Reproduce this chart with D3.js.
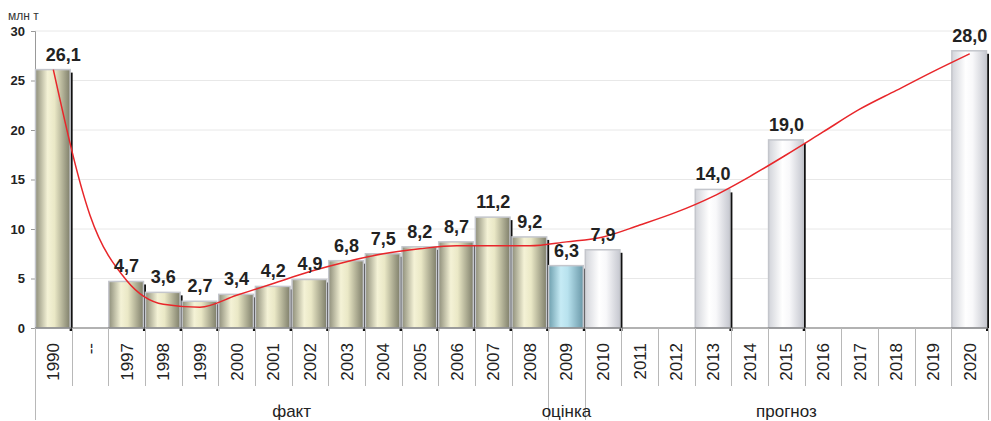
<!DOCTYPE html>
<html>
<head>
<meta charset="utf-8">
<script src="https://cdn.jsdelivr.net/npm/d3@7"></script>
<style>
  body { margin: 0; background: #fff; }
  text { font-family: Arial, "Liberation Sans", sans-serif; }
</style>
</head>
<body>
<div class="svg-container"></div>
<script>
var width = 991,
  height = 421;

// categories and values
var categories = ["1990", "--", "1997", "1998", "1999", "2000", "2001", "2002", "2003", "2004",
  "2005", "2006", "2007", "2008", "2009", "2010", "2011", "2012", "2013", "2014",
  "2015", "2016", "2017", "2018", "2019", "2020"];
var values = [26.1, null, 4.7, 3.6, 2.7, 3.4, 4.2, 4.9, 6.8, 7.5,
  8.2, 8.7, 11.2, 9.2, 6.3, 7.9, null, null, 14.0, null,
  19.0, null, null, null, null, 28.0];
// kind of each column: fact / estimate / forecast
var kinds = ["f", "f", "f", "f", "f", "f", "f", "f", "f", "f",
  "f", "f", "f", "f", "e", "p", "p", "p", "p", "p",
  "p", "p", "p", "p", "p", "p"];
// red trend line, read per column
var trend = [26.1, 11.4, 4.8, 2.4, 2.1, 3.3, 4.5, 5.7, 6.7, 7.5,
  8.0, 8.3, 8.3, 8.3, 8.7, 9.2, 10.4, 11.7, 13.3, 15.3,
  17.5, 19.8, 22.1, 24.0, 25.9, 27.7];
var yTicks = [0, 5, 10, 15, 20, 25, 30];
var groups = [
  { name: "факт", from: "1990", to: "2008" },
  { name: "оцінка", from: "2009", to: "2009" },
  { name: "прогноз", from: "2010", to: "2020" }
];

var margin = { left: 35, right: 3, top: 31, bottom: 93 };

var svg = d3.select(".svg-container").append("svg")
  .attr("width", width)
  .attr("height", height);

var x = d3.scaleBand()
  .domain(categories)
  .range([margin.left, width - margin.right]);

var y = d3.scaleLinear()
  .domain([0, 30])
  .range([height - margin.bottom, margin.top]);

var defs = svg.append("defs");
function grad(id, stops) {
  var g = defs.append("linearGradient").attr("id", id)
    .attr("x1", "0%").attr("x2", "100%").attr("y1", "0%").attr("y2", "0%");
  stops.forEach(function(s) {
    g.append("stop").attr("offset", s[0]).attr("stop-color", s[1]);
  });
}
grad("g-f", [["0%", "#8e8e7a"], ["35%", "#f4f2d6"], ["55%", "#eae8c6"], ["100%", "#7e7e6a"]]);
grad("g-e", [["0%", "#6e9fae"], ["35%", "#c6ebf5"], ["55%", "#b8e2ee"], ["100%", "#6a98a8"]]);
grad("g-p", [["0%", "#d2d4da"], ["40%", "#ffffff"], ["60%", "#f8f8fa"], ["100%", "#c6c8d0"]]);

// grid
svg.selectAll(".grid")
  .data(yTicks.filter(function(d) { return d > 0; }))
  .enter().append("line")
  .attr("x1", margin.left).attr("x2", width - margin.right)
  .attr("y1", function(d) { return y(d); }).attr("y2", function(d) { return y(d); })
  .attr("stroke", "#e8e8e8").attr("stroke-width", 1);

// y axis
var yAxis = svg.append("g")
  .attr("transform", "translate(" + margin.left + ",0)")
  .call(d3.axisLeft(y).tickValues(yTicks).tickSize(4).tickPadding(6));
yAxis.select(".domain").attr("stroke", "#999");
yAxis.selectAll(".tick line").attr("stroke", "#999");
yAxis.selectAll("text")
  .attr("font-size", 13).attr("font-weight", "bold").attr("fill", "#222")
  .style("font-family", "Arial, 'Liberation Sans', sans-serif");

svg.append("text")
  .attr("x", 8).attr("y", 20)
  .attr("font-size", 12).attr("fill", "#333")
  .text("млн т");

var data = categories.map(function(c, i) {
  return { cat: c, v: values[i], kind: kinds[i], t: trend[i] };
});
var bars = data.filter(function(d) { return d.v !== null; });
var bw = x.bandwidth() - 1;

// shadows first, then bars over them
svg.selectAll(".shadow")
  .data(bars)
  .enter().append("rect")
  .attr("x", function(d) { return x(d.cat) + bw - 1; })
  .attr("y", function(d) { return y(d.v) + 3; })
  .attr("width", 3)
  .attr("height", function(d) { return y(0) - y(d.v); })
  .attr("fill", "#111");

svg.selectAll(".bar")
  .data(bars)
  .enter().append("rect")
  .attr("x", function(d) { return x(d.cat) + 0.5; })
  .attr("y", function(d) { return y(d.v); })
  .attr("width", bw - 1)
  .attr("height", function(d) { return y(0) - y(d.v); })
  .attr("fill", function(d) { return "url(#g-" + d.kind + ")"; })
  .attr("stroke", "#c4c6cc")
  .attr("stroke-width", 1.5);

// baseline
svg.append("line")
  .attr("x1", margin.left).attr("x2", width - margin.right)
  .attr("y1", y(0)).attr("y2", y(0))
  .attr("stroke", "#666").attr("stroke-width", 1.2);

// category separators
var bounds = categories.map(function(c) { return x(c); }).concat([x.range()[1]]);
var longBounds = [x("1990"), x("2009"), x("2010"), x.range()[1]];
svg.selectAll(".sep")
  .data(bounds)
  .enter().append("line")
  .attr("x1", function(d) { return Math.round(d) + 0.5; })
  .attr("x2", function(d) { return Math.round(d) + 0.5; })
  .attr("y1", y(0))
  .attr("y2", function(d) {
    return longBounds.some(function(b) { return Math.abs(b - d) < 0.1; }) ? 420 : 386;
  })
  .attr("stroke", "#b8b8b8").attr("stroke-width", 1);

// rotated category labels
svg.selectAll(".xlab")
  .data(categories)
  .enter().append("text")
  .attr("transform", function(d) {
    return "translate(" + (x(d) + x.bandwidth() / 2 + 6) + "," + 343 + ") rotate(-90)";
  })
  .attr("text-anchor", "end")
  .attr("font-size", 17)
  .attr("fill", "#222")
  .text(function(d) { return d; });

// group labels
svg.selectAll(".grp")
  .data(groups)
  .enter().append("text")
  .attr("x", function(d) { return (x(d.from) + x(d.to) + x.bandwidth()) / 2; })
  .attr("y", 417)
  .attr("text-anchor", "middle")
  .attr("font-size", 17)
  .attr("fill", "#222")
  .text(function(d) { return d.name; });

// trend line
var line = d3.line()
  .x(function(d) { return x(d.cat) + x.bandwidth() / 2; })
  .y(function(d) { return y(d.t); })
  .curve(d3.curveMonotoneX);
svg.append("path")
  .datum(data)
  .attr("d", line)
  .attr("fill", "none")
  .attr("stroke", "#e8262a")
  .attr("stroke-width", 1.5);

// value labels
svg.selectAll(".val")
  .data(bars)
  .enter().append("text")
  .attr("x", function(d, i) { return x(d.cat) + x.bandwidth() / 2 + (i === 0 ? 10 : 0); })
  .attr("y", function(d) { return y(d.v) - 9; })
  .attr("text-anchor", "middle")
  .attr("font-size", 18)
  .attr("font-weight", "bold")
  .attr("fill", "#222")
  .text(function(d) { return d.v.toFixed(1).replace(".", ","); });
</script>
</body>
</html>
